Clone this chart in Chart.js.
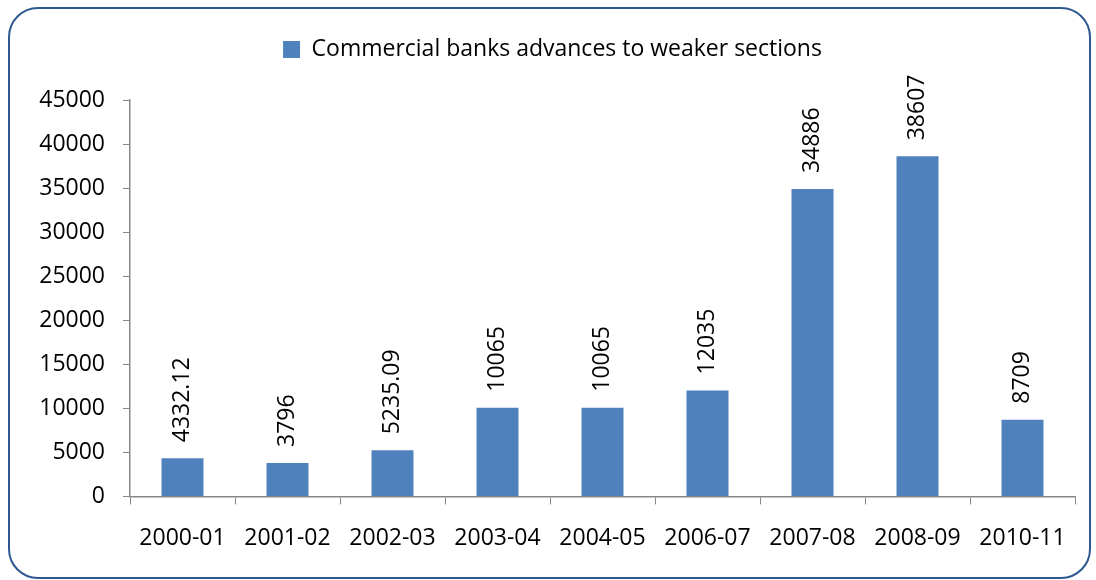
<!DOCTYPE html>
<html>
<head>
<meta charset="utf-8">
<script src="https://cdn.jsdelivr.net/npm/chart.js@4.4.0/dist/chart.umd.min.js"></script>
<style>
  body { margin: 0; background: #fff; }
  #wrap { position: relative; width: 1096px; height: 580px; }
  #frame {
    position: absolute; left: 8px; top: 7px; width: 1079px; height: 568px;
    border: 2px solid #2D5890; border-radius: 30px; pointer-events: none;
  }
  canvas { position: absolute; left: 0; top: 0; }
</style>
</head>
<body>
<div id="wrap">
  <canvas id="myChart" width="1096" height="580"></canvas>
  <div id="frame"></div>
</div>
<script>
const years = ["2000-01", "2001-02", "2002-03", "2003-04", "2004-05", "2006-07", "2007-08", "2008-09", "2010-11"];
const advances = [4332.12, 3796, 5235.09, 10065, 10065, 12035, 34886, 38607, 8709];
const seriesName = "Commercial banks advances to weaker sections";
const FONT = "'Open Sans', 'Liberation Sans', sans-serif";
const SIZE = 23;

// rotated value labels above each bar
const barLabels = {
  id: "barLabels",
  afterDatasetsDraw(chart) {
    const { ctx } = chart;
    const meta = chart.getDatasetMeta(0);
    ctx.save();
    ctx.font = SIZE + "px " + FONT;
    ctx.fillStyle = "#000";
    ctx.textAlign = "left";
    ctx.textBaseline = "middle";
    meta.data.forEach((bar, i) => {
      ctx.save();
      ctx.translate(bar.x, bar.y - 16);
      ctx.rotate(-Math.PI / 2);
      ctx.fillText(String(advances[i]), 0, 0);
      ctx.restore();
    });
    ctx.restore();
  }
};

// extra room under the legend
const legendGap = {
  id: "legendGap",
  beforeInit(chart) {
    const fit = chart.legend.fit;
    chart.legend.fit = function () {
      fit.bind(chart.legend)();
      this.height += 29;
    };
  }
};

Chart.defaults.font.family = FONT;
Chart.defaults.color = "#000";

new Chart(document.getElementById("myChart"), {
  type: "bar",
  data: {
    labels: years,
    datasets: [{
      label: seriesName,
      data: advances,
      backgroundColor: "#4F81BD",
      borderWidth: 0,
      categoryPercentage: 1,
      barPercentage: 0.4
    }]
  },
  options: {
    responsive: false,
    animation: false,
    layout: { padding: { left: 30, right: 21, top: 32, bottom: 8 } },
    plugins: {
      tooltip: { enabled: false },
      legend: {
        position: "top",
        labels: {
          boxWidth: 17, boxHeight: 17, padding: 6,
          font: { size: SIZE }
        }
      }
    },
    scales: {
      x: {
        offset: true,
        grid: { offset: true, drawOnChartArea: false, tickLength: 8, color: "#878787" },
        border: { color: "#878787", width: 1.5 },
        ticks: { font: { size: SIZE }, padding: 20 }
      },
      y: {
        min: 0, max: 45000,
        afterFit: (s) => { s.width = 100; },
        grid: { drawOnChartArea: false, tickLength: 7, color: "#878787" },
        border: { color: "#878787", width: 1.5 },
        ticks: { stepSize: 5000, font: { size: SIZE }, padding: 18, callback: (v) => String(v) }
      }
    }
  },
  plugins: [barLabels, legendGap]
});
</script>
</body>
</html>
